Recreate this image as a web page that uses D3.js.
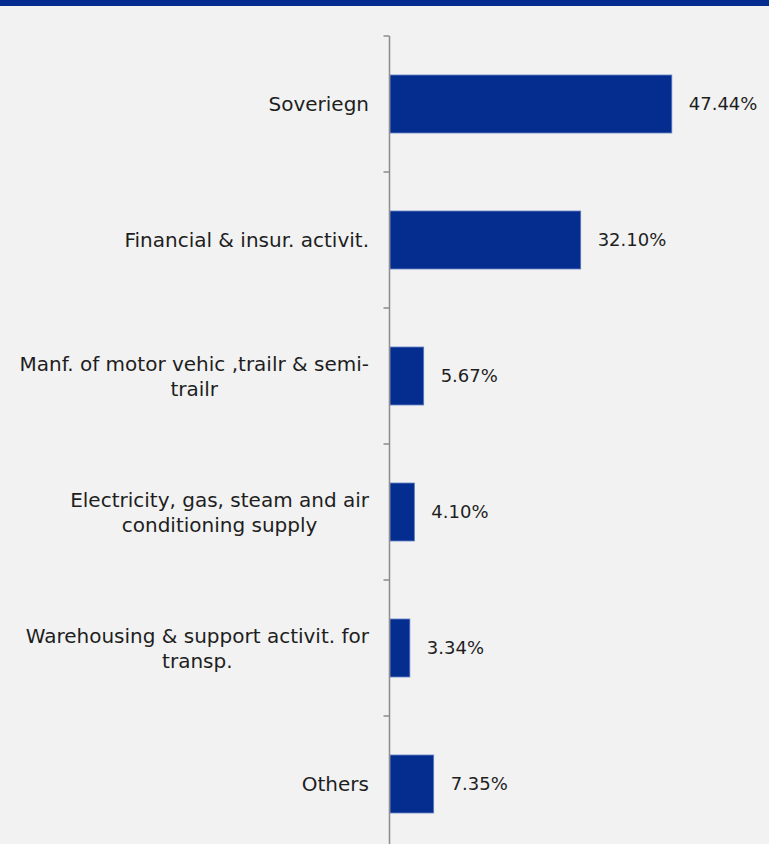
<!DOCTYPE html>
<html>
<head>
<meta charset="utf-8">
<script src="https://cdn.jsdelivr.net/npm/d3@7"></script>
<style>
  html, body { margin: 0; padding: 0; background: #f2f2f2; }
  svg { display: block; }
  text { font-family: "DejaVu Sans", sans-serif; fill: #1e1e1e; }
</style>
</head>
<body>
<svg id="chart" width="769" height="844"></svg>
<script>
// Sector breakdown (%)
const categories = [
  ["Soveriegn"],
  ["Financial & insur. activit."],
  ["Manf. of motor vehic ,trailr & semi-", "trailr"],
  ["Electricity, gas, steam and air", "conditioning supply"],
  ["Warehousing & support activit. for", "transp."],
  ["Others"]
];
const values = [47.44, 32.10, 5.67, 4.10, 3.34, 7.35];
const valueLabels = ["47.44%", "32.10%", "5.67%", "4.10%", "3.34%", "7.35%"];

const svg = d3.select("#chart");
const W = 769, H = 844;
const axisX = 389.5;
const blue = "#052d8f";

// top banner
svg.append("rect").attr("x", 0).attr("y", 0).attr("width", W).attr("height", 6).attr("fill", blue);

const ids = d3.range(values.length);
const y = d3.scaleBand().domain(ids).range([36, 852]).paddingInner(0.574).paddingOuter(0.287);
const x = d3.scaleLinear().domain([0, 50]).range([390, 687]);

// bars
svg.append("g").selectAll("rect").data(ids).join("rect")
  .attr("x", x(0))
  .attr("y", i => y(i))
  .attr("width", i => x(values[i]) - x(0))
  .attr("height", y.bandwidth())
  .attr("fill", blue)
  .attr("stroke", "#5a78c0")
  .attr("stroke-width", 0.8);

// value labels
svg.append("g").selectAll("text").data(ids).join("text")
  .attr("x", i => x(values[i]) + 17)
  .attr("y", i => y(i) + y.bandwidth() / 2)
  .attr("dy", "0.35em")
  .attr("font-size", 18)
  .text(i => valueLabels[i]);

// vertical axis with boundary ticks between categories
const step = y.step();
const boundaries = d3.range(values.length + 1).map(k => 36 + k * step);
const axisG = svg.append("g").attr("stroke", "#8c8c8c").attr("stroke-width", 1.5);
axisG.append("line").attr("x1", axisX).attr("x2", axisX).attr("y1", 36).attr("y2", H + 10);
axisG.selectAll("line.tick").data(boundaries).join("line").attr("class", "tick")
  .attr("x1", axisX - 6).attr("x2", axisX).attr("y1", b => b).attr("y2", b => b);

// category labels (multi-line labels centered within their block)
const labelRight = 369;
const lineH = 25;
const catG = svg.append("g");
ids.forEach(i => {
  const lines = categories[i];
  const cy = y(i) + y.bandwidth() / 2;
  const t = catG.append("text").attr("font-size", 20);
  const spans = lines.map((ln, k) =>
    t.append("tspan").attr("y", cy + (k - (lines.length - 1) / 2) * lineH).attr("dy", "0.35em").text(ln));
  if (lines.length === 1) {
    t.attr("text-anchor", "end");
    spans[0].attr("x", labelRight);
  } else {
    const widths = spans.map(s => s.node().getComputedTextLength());
    const maxW = d3.max(widths);
    const cx = labelRight - maxW / 2;
    t.attr("text-anchor", "middle");
    spans.forEach(s => s.attr("x", cx));
  }
});
</script>
</body>
</html>
